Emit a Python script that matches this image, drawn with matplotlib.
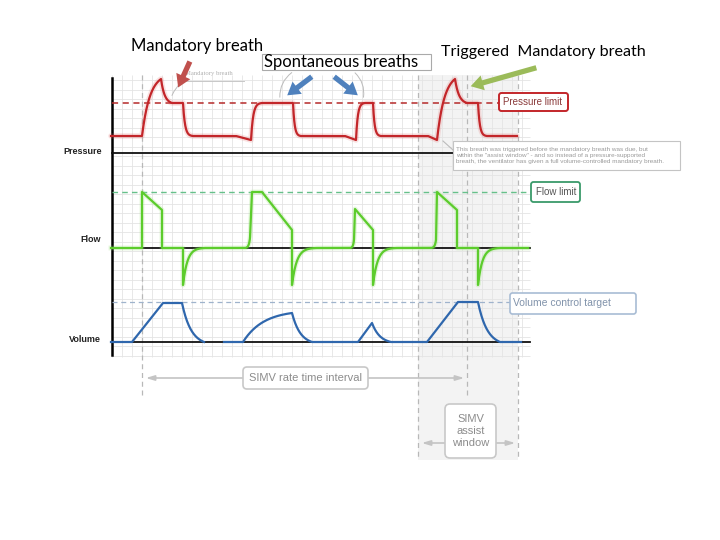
import matplotlib
matplotlib.use("Agg")
import matplotlib.pyplot as plt
from matplotlib.patches import FancyBboxPatch, Rectangle
import numpy as np

# waveforms: key points in picture units, plus a shape code per segment
# l = straight, e = fast exponential approach, g = gentle one, d = peak decay, s = slow start
pressure_x = [111, 142, 161, 172, 183, 193, 236, 251, 262, 293, 301, 345, 356, 365, 373, 381, 428, 437, 455, 467, 478, 487, 517]
pressure_y = [136, 136, 79, 103, 103, 136, 136, 140, 103, 103, 136, 136, 140, 103, 103, 136, 136, 140, 79, 103, 103, 136, 136]
pressure_shape = "lgdle" + "ll" + "e" + "l" + "e" + "ll" + "e" + "l" + "e" + "ll" + "gd" + "l" + "e" + "l"

flow_x = [111, 142, 142, 162, 162, 183, 183, 205, 245, 250, 252, 262, 292, 292, 316, 350, 354, 355, 373, 373, 396, 431, 436, 437, 457, 457, 478, 478, 500, 528]
flow_y = [248, 248, 192, 210, 248, 248, 285, 248, 248, 238, 192, 192, 230, 285, 248, 248, 240, 209, 230, 285, 248, 248, 240, 192, 210, 248, 248, 285, 248, 248]
flow_shape = "llllll" + "e" + "l" + "s" + "llll" + "e" + "l" + "s" + "lll" + "e" + "l" + "s" + "lllll" + "e" + "l"

volume1_x = [111, 132, 163, 182, 204]
volume1_y = [342, 342, 303, 303, 342]
volume1_shape = "lllg"
volume2_x = [224, 243, 292, 312, 358, 372, 391, 427, 458, 478, 500, 521]
volume2_y = [342, 342, 313, 342, 342, 323, 342, 342, 302, 302, 342, 342]
volume2_shape = "lggllglllgl"

pressure_limit = 103
flow_limit = 192
volume_target = 302
zero_lines = {"Pressure": 153, "Flow": 248, "Volume": 342}

K = {"e": 5.0, "g": 2.4, "d": 3.0, "s": 4.0}


def build(xs, ys, shapes, n=40):
    ox, oy = [xs[0]], [ys[0]]
    pts = list(zip(xs, ys))
    for (x0, y0), (x1, y1), s in zip(pts[:-1], pts[1:], shapes):
        t = np.linspace(0, 1, n)[1:]
        if s == "l":
            f = t
        elif s == "s":
            k = K[s]
            f = (np.exp(k * t) - 1) / (np.exp(k) - 1)
        else:
            k = K[s]
            f = (1 - np.exp(-k * t)) / (1 - np.exp(-k))
        ox += list(x0 + (x1 - x0) * t)
        oy += list(y0 + (y1 - y0) * f)
    return ox, oy


def box(ax, x0, y0, x1, y1, ec, lw=1.2, pad=2.5, fc="white", z=6):
    p = FancyBboxPatch((x0, y0), x1 - x0, y1 - y0,
                       boxstyle=f"round,pad=0,rounding_size={pad}",
                       fc=fc, ec=ec, lw=lw, zorder=z)
    ax.add_patch(p)


def main():
    fig = plt.figure(figsize=(7.2, 5.4), dpi=100)
    ax = fig.add_axes([0, 0, 1, 1])
    ax.set_xlim(0, 720)
    ax.set_ylim(540, 0)
    ax.axis("off")

    # assist window shading
    ax.add_patch(Rectangle((418, 75), 100, 385, fc="#f3f3f3", ec="none", zorder=0))

    # grid
    gx = np.arange(112, 531, 10)
    gy = np.arange(80, 358, 9.5)
    ax.vlines(gx, 75, 357, color="#e4e4e4", lw=0.6, zorder=1)
    ax.hlines(gy, 112, 530, color="#e4e4e4", lw=0.6, zorder=1)

    # vertical dashed markers
    for x, top, bot in [(142, 75, 398), (467, 75, 398), (418, 75, 460), (518, 75, 460)]:
        ax.plot([x, x], [top, bot], color="#b8b8b8", lw=0.9, dashes=(4, 3), zorder=2)

    # axis and zero lines
    ax.plot([112, 112], [78, 355], color="black", lw=1.8, zorder=3)
    for name, y in zero_lines.items():
        ax.plot([112, 530], [y, y], color="#111111", lw=1.3, zorder=3)
    ax.text(63, 152, "Pressure", fontsize=6.5, fontweight="bold", va="center", ha="left",
            color="#222222", family="Liberation Sans")
    ax.text(101, 240, "Flow", fontsize=6.5, fontweight="bold", va="center", ha="right",
            color="#222222", family="Liberation Sans")
    ax.text(101, 339, "Volume", fontsize=6.5, fontweight="bold", va="center", ha="right",
            color="#222222", family="Liberation Sans")

    # limit lines
    ax.plot([112, 499], [pressure_limit] * 2, color="#b52a2a", lw=1.1, dashes=(4, 3), zorder=3)
    ax.plot([112, 531], [flow_limit] * 2, color="#66c08a", lw=1.0, dashes=(4, 3), zorder=3)
    ax.plot([112, 510], [volume_target] * 2, color="#9fb3cc", lw=0.9, dashes=(4, 3), zorder=3)

    # traces
    x, y = build(pressure_x, pressure_y, pressure_shape)
    ax.plot(x, y, color="#e06060", lw=4, alpha=0.18, zorder=4, solid_capstyle="round")
    ax.plot(x, y, color="#c3262a", lw=1.6, zorder=5)
    x, y = build(flow_x, flow_y, flow_shape)
    ax.plot(x, y, color="#9be07a", lw=3.5, alpha=0.25, zorder=4)
    ax.plot(x, y, color="#5ccc2c", lw=1.6, zorder=5)
    for xs, ys, sh in [(volume1_x, volume1_y, volume1_shape), (volume2_x, volume2_y, volume2_shape)]:
        x, y = build(xs, ys, sh)
        ax.plot(x, y, color="#2f67ad", lw=1.6, zorder=5)

    # label boxes on the right
    box(ax, 499, 93, 568, 111, "#c3262a", lw=1.4)
    ax.text(503, 102, "Pressure limit", fontsize=7, color="#8a3a3a", va="center", zorder=7,
            family="Liberation Sans")
    box(ax, 531, 182, 580, 202, "#3a9a6a", lw=1.3)
    ax.text(536, 192, "Flow limit", fontsize=7, color="#555555", va="center", zorder=7,
            family="Liberation Sans")
    box(ax, 510, 293, 636, 314, "#a8bcd4", lw=1.2)
    ax.text(513, 303.5, "Volume control target", fontsize=7.5, color="#8193ab", va="center",
            zorder=7, family="Liberation Sans")

    # callout for the triggered breath
    ax.add_patch(Rectangle((453, 141), 227, 29, fc="white", ec="#c4c4c4", lw=0.8, zorder=6))
    ax.plot([453, 443], [150, 141], color="#bbbbbb", lw=0.8, zorder=6)
    ax.text(456, 155.5,
            "This breath was triggered before the mandatory breath was due, but\n"
            "within the \"assist window\" - and so instead of a pressure-supported\n"
            "breath, the ventilator has given a full volume-controlled mandatory breath.",
            fontsize=4.6, color="#9a9a9a", va="center", linespacing=1.2, zorder=7,
            family="Liberation Sans")

    # small grey mandatory breath label
    ax.text(185, 74, "Mandatory breath", fontsize=4.8, color="#b0b0b0", va="center", zorder=7,
            family="Liberation Serif")
    ax.plot([184, 244], [81, 81], color="#c8c8c8", lw=0.7, zorder=6)
    ax.annotate("", xy=(171, 98), xytext=(184, 80),
                arrowprops=dict(arrowstyle="-", color="#bbbbbb", lw=0.7,
                                connectionstyle="arc3,rad=0.15"), zorder=6)

    # spontaneous breaths box and callout curves
    ax.add_patch(Rectangle((262, 54), 169, 16, fc="white", ec="#aaaaaa", lw=0.8, zorder=6))
    ax.annotate("", xy=(280, 100), xytext=(294, 71),
                arrowprops=dict(arrowstyle="-", color="#bbbbbb", lw=0.7,
                                connectionstyle="arc3,rad=0.3"), zorder=6)
    ax.annotate("", xy=(363, 100), xytext=(353, 71),
                arrowprops=dict(arrowstyle="-", color="#bbbbbb", lw=0.7,
                                connectionstyle="arc3,rad=-0.3"), zorder=6)

    # headline annotations
    ax.text(131, 46, "Mandatory breath", fontsize=12, color="black", va="center",
            family="Lato", zorder=8)
    ax.text(264, 62, "Spontaneous breaths", fontsize=12, color="black", va="center",
            family="Lato", zorder=8)
    ax.text(441, 52, "Triggered  Mandatory breath", fontsize=11.6, color="black", va="center",
            family="Lato", zorder=8)

    arrow = dict(arrowstyle="simple,head_width=1.1,head_length=0.9,tail_width=0.38",
                 lw=0)
    ax.annotate("", xy=(177, 90), xytext=(191, 59),
                arrowprops=dict(arrow, fc="#c0504d", ec="#c0504d"), zorder=8)
    ax.annotate("", xy=(285, 97), xytext=(314, 75),
                arrowprops=dict(arrow, fc="#4f81bd", ec="#4f81bd"), zorder=8)
    ax.annotate("", xy=(360, 97), xytext=(332, 75),
                arrowprops=dict(arrow, fc="#4f81bd", ec="#4f81bd"), zorder=8)
    ax.annotate("", xy=(468, 87), xytext=(539, 67),
                arrowprops=dict(arrow, fc="#9bbb59", ec="#9bbb59"), zorder=8)

    # interval arrows
    grey = "#c4c4c4"
    ax.annotate("", xy=(143, 378), xytext=(467, 378),
                arrowprops=dict(arrowstyle="<|-|>,head_width=0.15,head_length=0.5",
                                color=grey, lw=1.2), zorder=5)
    box(ax, 243, 367, 368, 389, "#c8c8c8", lw=1.2, pad=4)
    ax.text(305.5, 378, "SIMV rate time interval", fontsize=8, color="#8c8c8c", ha="center",
            va="center", zorder=7, family="Liberation Sans")
    ax.annotate("", xy=(419, 443), xytext=(518, 443),
                arrowprops=dict(arrowstyle="<|-|>,head_width=0.15,head_length=0.5",
                                color=grey, lw=1.2), zorder=5)
    box(ax, 445, 404, 496, 458, "#c8c8c8", lw=1.2, pad=5)
    ax.text(470.5, 431, "SIMV\nassist\nwindow", fontsize=8, color="#8c8c8c", ha="center",
            va="center", linespacing=1.3, zorder=7, family="Liberation Sans")

    fig.savefig("out.png", dpi=100)


if __name__ == "__main__":
    main()
